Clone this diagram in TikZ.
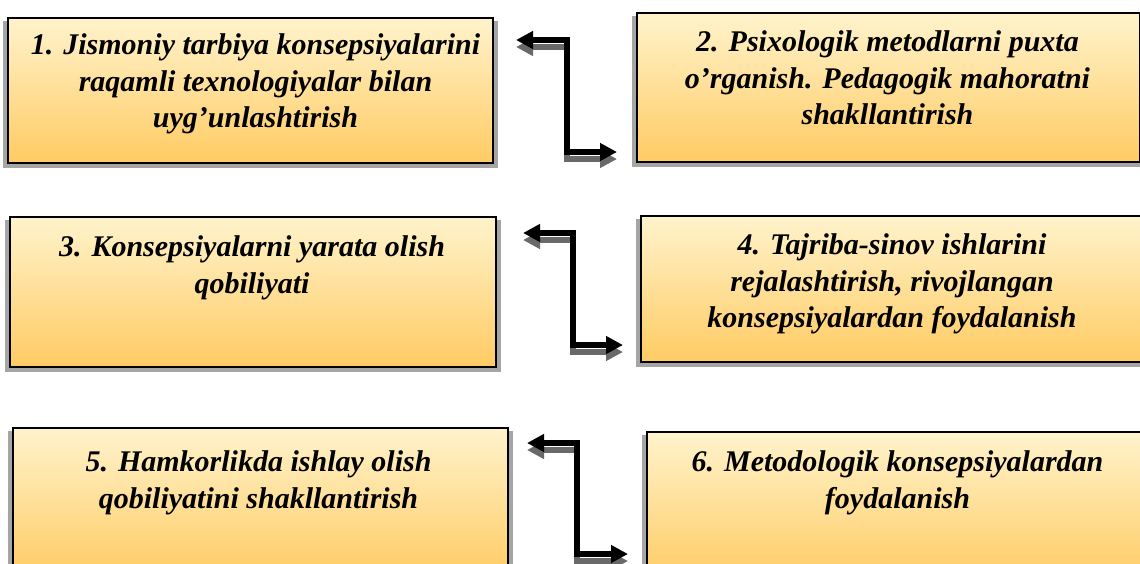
\documentclass[tikz,border=0pt]{standalone}
\usepackage{fontspec}
\setmainfont{Liberation Serif}
\usetikzlibrary{arrows.meta,calc,backgrounds}
\definecolor{boxtop}{RGB}{255,243,204}
\definecolor{boxbot}{RGB}{255,203,99}
\definecolor{shadowgray}{RGB}{165,165,165}
\definecolor{arrowshadow}{RGB}{105,105,105}
\begin{document}
\begin{tikzpicture}[x=1pt,y=-1pt,
  box/.style={rectangle,draw=black,line width=2.5pt,top color=boxtop,bottom color=boxbot,inner sep=0pt},
  boxtext/.style={font=\fontsize{30}{36.5}\selectfont\bfseries\itshape,align=center,anchor=north,inner sep=0pt},
  link/.style={line width=5.5pt,{Triangle[length=17pt,width=17pt]}-{Triangle[length=17pt,width=17pt]}},
  linkshadow/.style={link,draw=arrowshadow,transform canvas={yshift=-7pt}},
  boxshadow/.style={fill=shadowgray}]
\useasboundingbox (0,0) rectangle (1140,563);
\clip (0,0) rectangle (1140,563);
% boxes
\node[box,minimum width=485pt,minimum height=145pt] (b1) at (250.5,90.5) {};
\node[box,minimum width=503pt,minimum height=149pt] (b2) at (888.5,87.5) {};
\node[box,minimum width=486pt,minimum height=150pt] (b3) at (253,292) {};
\node[box,minimum width=502pt,minimum height=146pt] (b4) at (892,289) {};
\node[box,minimum width=495pt,minimum height=150pt] (b5) at (260.5,503) {};
\node[box,minimum width=501pt,minimum height=150pt] (b6) at (897.5,507) {};
\begin{scope}[on background layer]
  \foreach \b in {b1,b2,b3,b4,b5,b6}{
    \fill[boxshadow] ($(\b.north west)+(-4,4)$) rectangle ($(\b.south east)+(4,4)$);
  }
\end{scope}
% texts
\node[boxtext] (t1) at ($(b1.north)+(5,17)$) {1. Jismoniy tarbiya konsepsiyalarini\\raqamli texnologiyalar bilan\\uyg’unlashtirish};
\node[boxtext] (t2) at ($(b2.north)+(-1,19)$) {2. Psixologik metodlarni puxta\\o’rganish. Pedagogik mahoratni\\shakllantirish};
\node[boxtext] (t3) at ($(b3.north)+(-1,20)$) {3. Konsepsiyalarni yarata olish\\qobiliyati};
\node[boxtext] (t4) at ($(b4.north)+(0,19)$) {4. Tajriba-sinov ishlarini\\rejalashtirish, rivojlangan\\konsepsiyalardan foydalanish};
\node[boxtext] (t5) at ($(b5.north)+(-2,24)$) {5. Hamkorlikda ishlay olish\\qobiliyatini shakllantirish};
\node[boxtext] (t6) at ($(b6.north)+(0,20)$) {6. Metodologik konsepsiyalardan\\foydalanish};
% connectors
\coordinate (a1l) at (516,40);  \coordinate (a1r) at (617,152);
\coordinate (a2l) at (523,233); \coordinate (a2r) at (623,345);
\coordinate (a3l) at (527,443); \coordinate (a3r) at (628,554);
\draw[linkshadow] (a1l) -- (567,40) -- (567,152) -- (a1r);
\draw[linkshadow] (a2l) -- (573,233) -- (573,345) -- (a2r);
\draw[linkshadow] (a3l) -- (577,443) -- (577,554) -- (a3r);
\draw[link] (a1l) -- (567,40) -- (567,152) -- (a1r);
\draw[link] (a2l) -- (573,233) -- (573,345) -- (a2r);
\draw[link] (a3l) -- (577,443) -- (577,554) -- (a3r);
\end{tikzpicture}
\end{document}
